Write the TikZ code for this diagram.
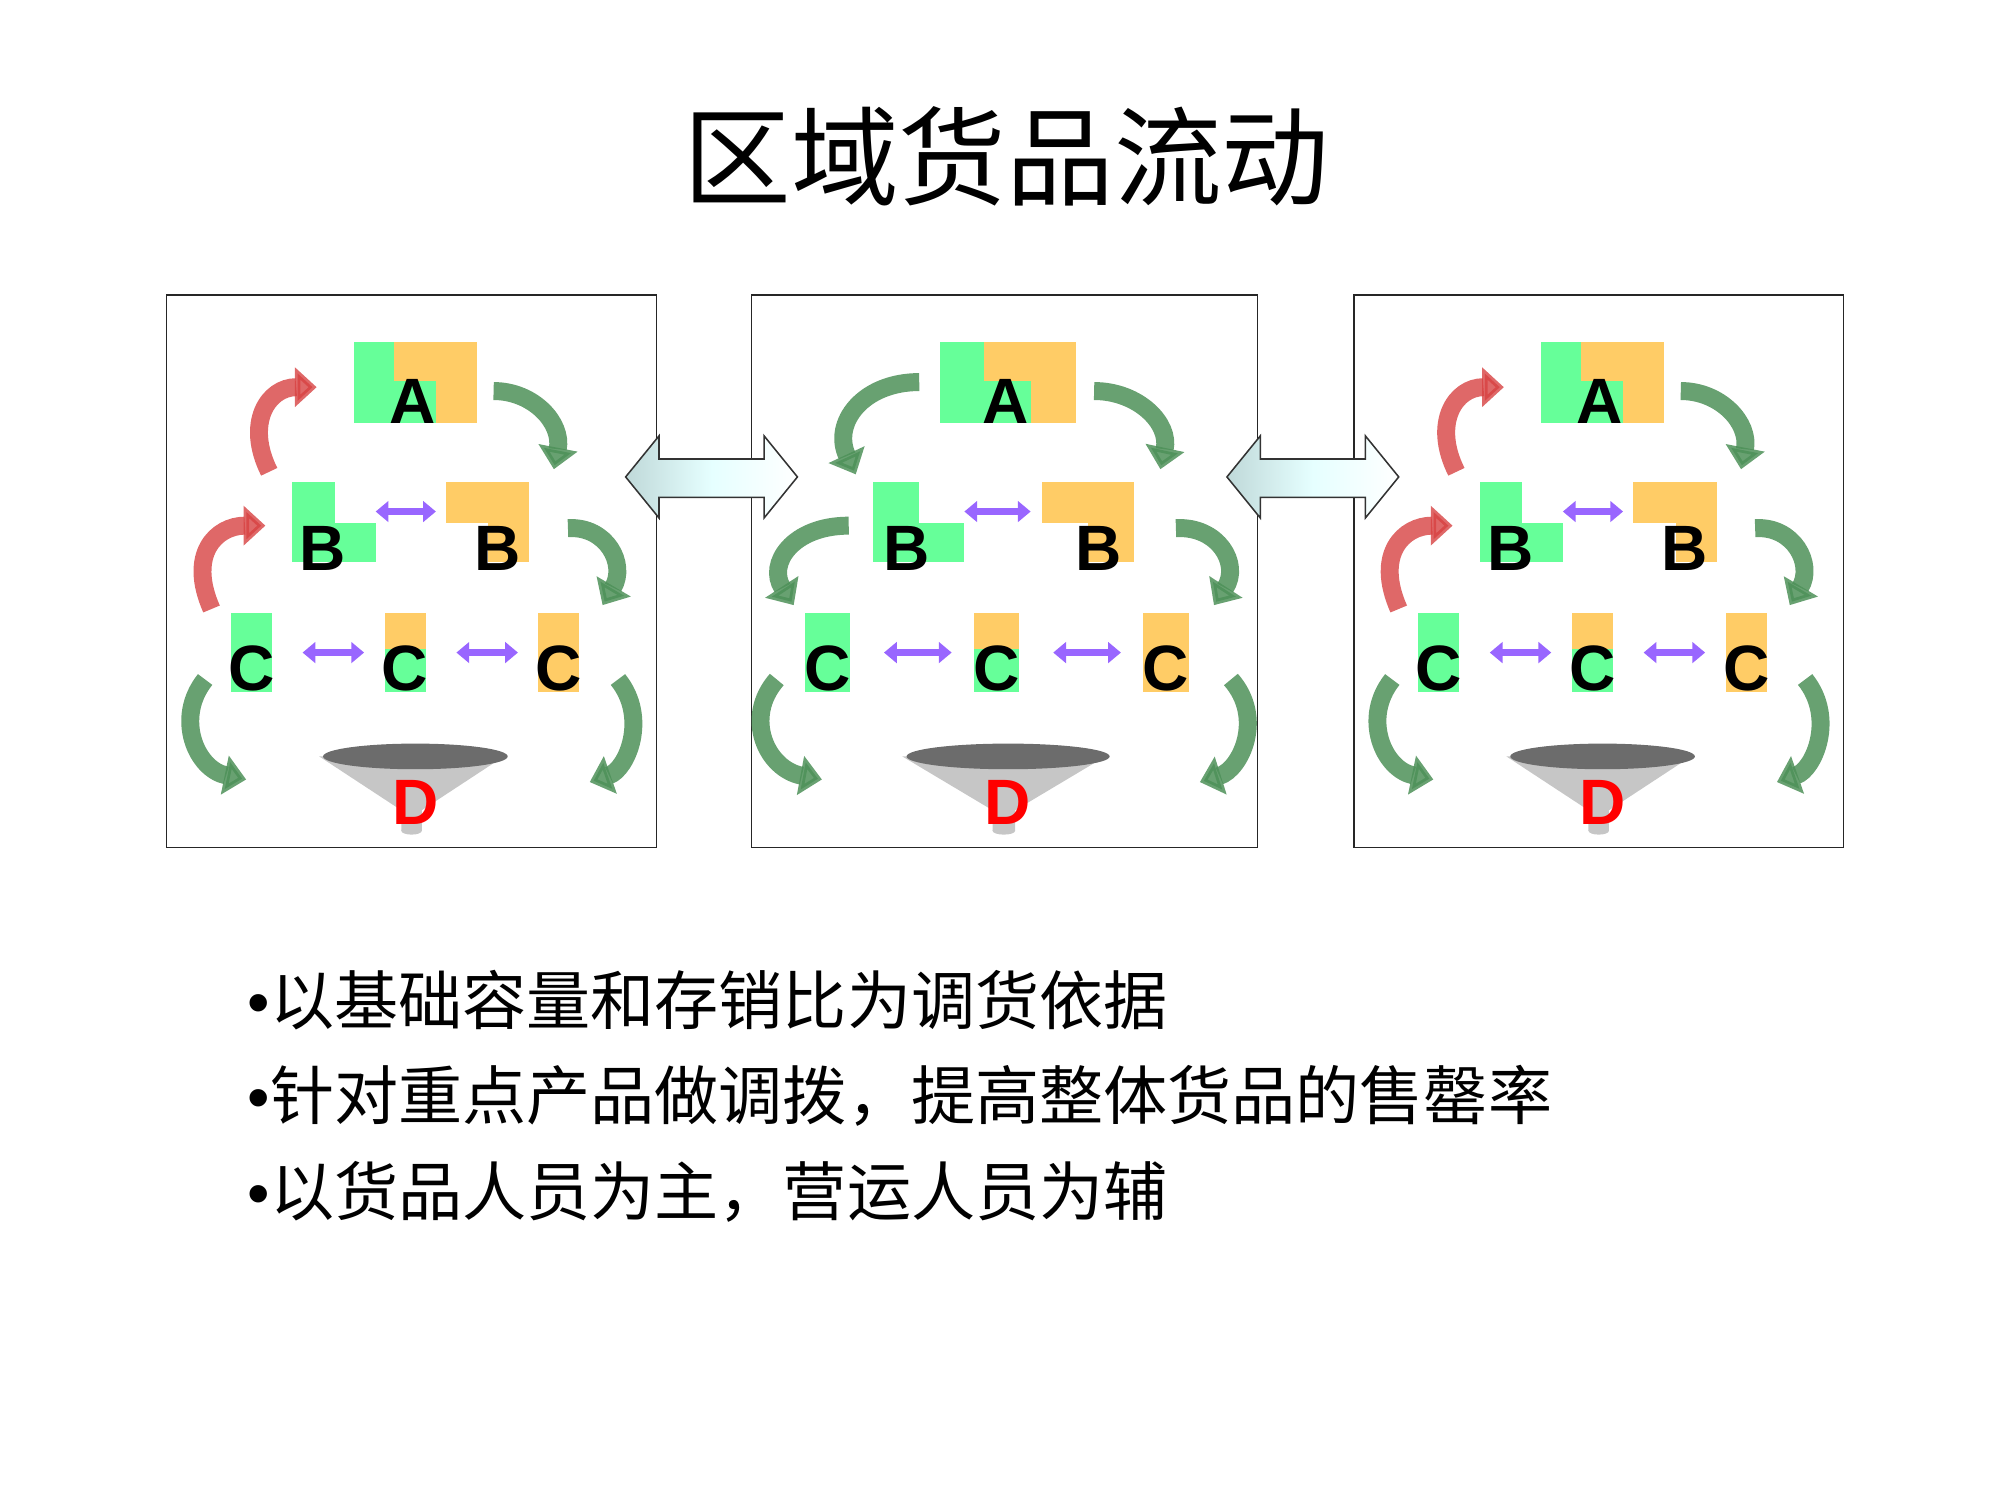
\documentclass[tikz,border=0pt]{standalone}
\usepackage{fontspec}
\newfontfamily\cjk{Noto Sans CJK SC}
\newfontfamily\lat{Liberation Sans}[BoldFont={Liberation Sans Bold}]
\usetikzlibrary{arrows.meta}
\definecolor{mgreen}{HTML}{66FF99}
\definecolor{morange}{HTML}{FFCC66}
\definecolor{mpurple}{HTML}{9966FF}
\definecolor{dgreen}{HTML}{2E7D3A}
\tikzset{
  lett/.style={font=\lat\bfseries\fontsize{50}{50}\selectfont,inner sep=0pt},
  curv/.style={line width=14pt,-{Triangle[width=30pt,length=17pt]}},
  garrow/.style={curv,draw=dgreen!85,opacity=0.85},
  rarrow/.style={curv,draw=red!65!gray!90,opacity=0.8},
  parrow/.style={draw=mpurple,line width=6pt,{Triangle[width=16pt,length=10pt]}-{Triangle[width=16pt,length=10pt]}},
  panelbox/.style={draw=black!85,line width=1.2pt},
}
\newcommand\drawpanel[4]{%
\begin{scope}[shift={(#1,0)},xscale=#3]
 \fill[morange] (-14,267) rectangle (51,330);
 \fill[mgreen] (-45,267) rectangle (-14,330);
 \fill[mgreen] (-14,297) rectangle (19,330);
 \node[lett] (#2A) at (1,313) {A};
 \fill[mgreen] (-93,376) rectangle (-60,438);
 \fill[mgreen] (-60,408) rectangle (-28,438);
 \node[lett] (#2Bl) at (-69,428) {B};
 \fill[morange] (27,376) rectangle (92,408);
 \fill[morange] (60,408) rectangle (92,438);
 \node[lett] (#2Br) at (67,428) {B};
 \fill[mgreen] (-141,478) rectangle (-109,540);
 \node[lett] (#2Cl) at (-125,521) {C};
 \fill[morange] (-21,478) rectangle (11,506);
 \fill[mgreen] (-21,506) rectangle (11,540);
 \node[lett] (#2Cm) at (-5,521) {C};
 \fill[morange] (99,478) rectangle (131,540);
 \node[lett] (#2Cr) at (115,521) {C};
 \coordinate (#2p1) at (-28,399); \coordinate (#2p2) at (19,399);
 \draw[parrow] (#2p1) -- (#2p2);
 \coordinate (#2p3) at (-85,509); \coordinate (#2p4) at (-37,509);
 \draw[parrow] (#2p3) -- (#2p4);
 \coordinate (#2p5) at (35,509); \coordinate (#2p6) at (83,509);
 \draw[parrow] (#2p5) -- (#2p6);
 % funnel
 \fill[gray!45] (-72,590) -- (72,590) -- (8,632) -- (8,648) -- (-8,648) -- (-8,632) -- cycle;
 \fill[gray!45] (0,648) ellipse (8 and 3);
 \fill[gray!85!black] (3,590) ellipse (72 and 10);
 \node[lett,text=red] (#2D) at (3,626) {D};
 % curved arrows
 #4
 \draw[garrow] (64,305) .. controls (95,305) and (118,330) .. (111,366);
 \draw[garrow] (122,412) .. controls (152,410) and (168,440) .. (149,472);
 \draw[garrow] (-161,530) .. controls (-185,560) and (-168,600) .. (-129,608);
 \draw[garrow] (161,530) .. controls (185,560) and (168,600) .. (139,610);
\end{scope}}
\newcommand\redleft{%
 \draw[rarrow] (-111,368) .. controls (-130,330) and (-112,302) .. (-74,302);
 \draw[rarrow] (-156,475) .. controls (-175,432) and (-152,410) .. (-114,410);}
\newcommand\greenleft{%
 \draw[garrow] (-60,298) .. controls (-100,298) and (-122,330) .. (-105,370);
 \draw[garrow] (-110,410) .. controls (-150,410) and (-168,440) .. (-149,472);}
\newcommand\bigarrow[1]{%
 \begin{scope}[shift={(#1,0)}]
 \draw[draw=black!80,line width=1.2pt,left color=cyan!25!gray!40,right color=white,middle color=white!90!cyan]
  (0,372) -- (26,340) -- (26,358) -- (108,358) -- (108,340) -- (134,372) -- (108,404) -- (108,388) -- (26,388) -- (26,404) -- cycle;
 \end{scope}}
\begin{document}
\begin{tikzpicture}[x=1pt,y=-1pt]
\useasboundingbox (0,0) rectangle (1560,1170);
\node[font=\cjk\fontsize{84}{90}\selectfont] (title) at (785,122) {区域货品流动};
\draw[panelbox] (130,230) rectangle (512,661);
\draw[panelbox] (586,230) rectangle (981,661);
\draw[panelbox] (1056,230) rectangle (1438,661);
\drawpanel{321}{a}{1}{\redleft}
\drawpanel{783}{b}{1.1}{\greenleft}
\drawpanel{1247}{c}{1}{\redleft}
\bigarrow{488}
\bigarrow{957}
\begin{scope}[every node/.style={font=\cjk\fontsize{50}{54}\selectfont,anchor=west,inner sep=0pt}]
\node (l1) at (193,780) {{\lat•}以基础容量和存销比为调货依据};
\node (l2) at (193,855) {{\lat•}针对重点产品做调拨，提高整体货品的售罄率};
\node (l3) at (193,930) {{\lat•}以货品人员为主，营运人员为辅};
\end{scope}
\end{tikzpicture}
\end{document}
